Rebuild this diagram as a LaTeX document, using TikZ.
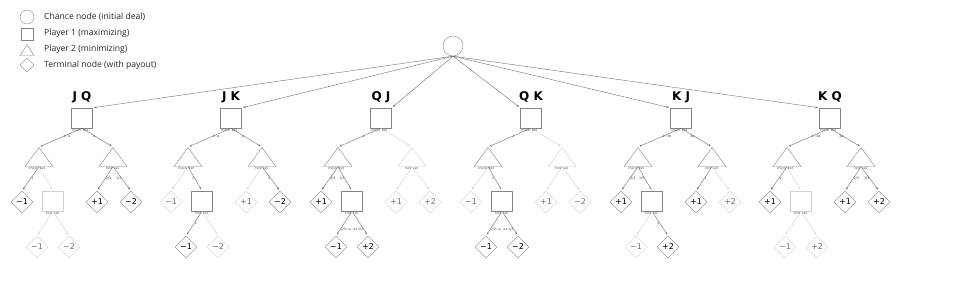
\documentclass[tikz,border=0pt]{standalone}
\usepackage{fontspec}
\setmainfont{DejaVu Sans}
\newfontfamily\legendfont{Open Sans}
\usetikzlibrary{arrows.meta, shapes.geometric}
\definecolor{gtline}{HTML}{707070}
\definecolor{gtnode}{HTML}{858585}
\definecolor{gtfade}{HTML}{D0D0D0}
\definecolor{gttext}{HTML}{555555}

\begin{document}
\begin{tikzpicture}[x=1pt, y=-1pt,
  every node/.style={font=\fontsize{8}{9}\selectfont},
  chance/.style={circle, draw=gtnode, minimum size=20pt, inner sep=0pt},
  pl1/.style={rectangle, draw=gtnode, fill=white, minimum width=21pt, minimum height=20pt, inner sep=0pt},
  pl2/.style={isosceles triangle, shape border rotate=90, isosceles triangle stretches, draw=gtnode, fill=white, minimum width=28pt, minimum height=19pt, inner sep=0pt, anchor=apex},
  term/.style={diamond, draw=gtnode, fill=white, minimum size=22pt, inner sep=0pt},
  off/.style={draw=gtfade, text=black!55},
  deal/.style={font=\fontsize{12}{12}\selectfont\bfseries},
  lgtext/.style={anchor=west, inner sep=0pt, font=\legendfont\fontsize{8.6}{10}\selectfont, text=black!85},
  move/.style={draw=gtline, line width=0.4pt, -{Stealth[length=2.5pt, width=2pt]}, shorten >=1.5pt},
  dead/.style={draw=gtfade},
  act/.style={font=\fontsize{3.2}{3.5}\selectfont, text=gttext, inner sep=0.6pt},
  lact/.style={act, pos=0, anchor=north east},
  ract/.style={act, pos=0, anchor=north west},
  lp/.style={act, text=black!80, pos=.5, anchor=west},
  rp/.style={act, text=black!80, pos=.5, anchor=east},
]
\useasboundingbox (0,0) rectangle (960,287);

% legend
\node[chance, minimum size=14pt] (lgc) at (27,17) {};
\node[pl1, minimum width=12pt, minimum height=12pt] (lgp) at (27,34) {};
\node[pl2, minimum width=14pt, minimum height=11pt] (lgo) at (27,44) {};
\node[term, minimum size=14pt] (lgt) at (27,65) {};
\node[lgtext] (lgctxt) at (44,17) {Chance node (initial deal)};
\node[lgtext] (lgptxt) at (44,33) {Player 1 (maximizing)};
\node[lgtext] (lgotxt) at (44,49) {Player 2 (minimizing)};
\node[lgtext] (lgttxt) at (44,65) {Terminal node (with payout)};

% chance node
\node[chance] (chance) at (453,46) {};

% J Q
\node[deal] (jqlbl) at (82,97) {J Q};
\node[pl1] (jq) at (82,118) {};
\node[pl2] (jqL) at (39,147) {};
\node[pl2] (jqR) at (113,147) {};
\node[term] (jqA) at (22,202) {−1};
\node[pl1, off] (jqP) at (53,201) {};
\node[term, off] (jqB) at (37,247) {−1};
\node[term, off] (jqC) at (69,247) {−2};
\node[term] (jqD) at (97,202) {+1};
\node[term] (jqE) at (131,202) {−2};

% J K
\node[deal] (jklbl) at (231,97) {J K};
\node[pl1] (jk) at (231,118) {};
\node[pl2] (jkL) at (188,147) {};
\node[pl2] (jkR) at (262,147) {};
\node[term, off] (jkA) at (171,202) {−1};
\node[pl1] (jkP) at (202,201) {};
\node[term] (jkB) at (186,247) {−1};
\node[term, off] (jkC) at (218,247) {−2};
\node[term, off] (jkD) at (246,202) {+1};
\node[term] (jkE) at (280,202) {−2};

% Q J
\node[deal] (qjlbl) at (381,97) {Q J};
\node[pl1] (qj) at (381,118) {};
\node[pl2] (qjL) at (338,147) {};
\node[pl2, off] (qjR) at (412,147) {};
\node[term] (qjA) at (321,202) {+1};
\node[pl1] (qjP) at (352,201) {};
\node[term] (qjB) at (336,247) {−1};
\node[term] (qjC) at (368,247) {+2};
\node[term, off] (qjD) at (396,202) {+1};
\node[term, off] (qjE) at (430,202) {+2};

% Q K
\node[deal] (qklbl) at (531,97) {Q K};
\node[pl1] (qk) at (531,118) {};
\node[pl2] (qkL) at (488,147) {};
\node[pl2, off] (qkR) at (562,147) {};
\node[term, off] (qkA) at (471,202) {−1};
\node[pl1] (qkP) at (502,201) {};
\node[term] (qkB) at (486,247) {−1};
\node[term] (qkC) at (518,247) {−2};
\node[term, off] (qkD) at (546,202) {+1};
\node[term, off] (qkE) at (580,202) {−2};

% K J
\node[deal] (kjlbl) at (681,97) {K J};
\node[pl1] (kj) at (681,118) {};
\node[pl2] (kjL) at (638,147) {};
\node[pl2] (kjR) at (712,147) {};
\node[term] (kjA) at (621,202) {+1};
\node[pl1] (kjP) at (652,201) {};
\node[term, off] (kjB) at (636,247) {−1};
\node[term] (kjC) at (668,247) {+2};
\node[term] (kjD) at (696,202) {+1};
\node[term, off] (kjE) at (730,202) {+2};

% K Q
\node[deal] (kqlbl) at (830,97) {K Q};
\node[pl1] (kq) at (830,118) {};
\node[pl2] (kqL) at (787,147) {};
\node[pl2] (kqR) at (861,147) {};
\node[term] (kqA) at (770,202) {+1};
\node[pl1, off] (kqP) at (801,201) {};
\node[term, off] (kqB) at (785,247) {−1};
\node[term, off] (kqC) at (817,247) {+2};
\node[term] (kqD) at (845,202) {+1};
\node[term] (kqE) at (879,202) {+2};

% deals
\draw[move] (chance.south) -- (jq.north east);
\draw[move] (chance.south) -- (jk.north east);
\draw[move] (chance.south) -- (qj.north east);
\draw[move] (chance.south) -- (qk.north west);
\draw[move] (chance.south) -- (kj.north west);
\draw[move] (chance.south) -- (kq.north west);

% J Q moves
\draw[move] (jq.south) -- node[lact]{check} node[lp, pos=.45]{1−α} (jqL.apex);
\draw[move] (jq.south) -- node[ract]{bet} node[rp, pos=.45]{α} (jqR.apex);
\draw[move] (jqL.south) -- node[lact]{check} node[lp]{1} (jqA.north);
\draw[move, dead] (jqL.south) -- node[ract]{bet} (jqP.north);
\draw[move, dead] (jqP.south) -- node[lact]{fold} (jqB.north);
\draw[move, dead] (jqP.south) -- node[ract]{call} (jqC.north);
\draw[move] (jqR.south) -- node[lact]{fold} node[lp]{2/3} (jqD.north);
\draw[move] (jqR.south) -- node[ract]{call} node[rp]{1/3} (jqE.north);

% J K moves
\draw[move] (jk.south) -- node[lact]{check} node[lp, pos=.45]{1−α} (jkL.apex);
\draw[move] (jk.south) -- node[ract]{bet} node[rp, pos=.45]{α} (jkR.apex);
\draw[move, dead] (jkL.south) -- node[lact]{check} (jkA.north);
\draw[move] (jkL.south) -- node[ract]{bet} node[rp]{1} (jkP.north);
\draw[move] (jkP.south) -- node[lact]{fold} node[lp]{1} (jkB.north);
\draw[move, dead] (jkP.south) -- node[ract]{call} (jkC.north);
\draw[move, dead] (jkR.south) -- node[lact]{fold} (jkD.north);
\draw[move] (jkR.south) -- node[ract]{call} node[rp]{1} (jkE.north);

% Q J moves
\draw[move] (qj.south) -- node[lact]{check} node[lp, pos=.45]{1} (qjL.apex);
\draw[move, dead] (qj.south) -- node[ract]{bet} (qjR.apex);
\draw[move] (qjL.south) -- node[lact]{check} node[lp]{2/3} (qjA.north);
\draw[move] (qjL.south) -- node[ract]{bet} node[rp]{1/3} (qjP.north);
\draw[move] (qjP.south) -- node[lact]{fold} node[lp, pos=.75]{2/3−α} (qjB.north);
\draw[move] (qjP.south) -- node[ract]{call} node[rp, pos=.75]{α+1/3} (qjC.north);
\draw[move, dead] (qjR.south) -- node[lact]{fold} (qjD.north);
\draw[move, dead] (qjR.south) -- node[ract]{call} (qjE.north);

% Q K moves
\draw[move] (qk.south) -- node[lact]{check} node[lp, pos=.45]{1} (qkL.apex);
\draw[move, dead] (qk.south) -- node[ract]{bet} (qkR.apex);
\draw[move, dead] (qkL.south) -- node[lact]{check} (qkA.north);
\draw[move] (qkL.south) -- node[ract]{bet} node[rp]{1} (qkP.north);
\draw[move] (qkP.south) -- node[lact]{fold} node[lp, pos=.75]{2/3−α} (qkB.north);
\draw[move] (qkP.south) -- node[ract]{call} node[rp, pos=.75]{α+1/3} (qkC.north);
\draw[move, dead] (qkR.south) -- node[lact]{fold} (qkD.north);
\draw[move, dead] (qkR.south) -- node[ract]{call} (qkE.north);

% K J moves
\draw[move] (kj.south) -- node[lact]{check} node[lp, pos=.45]{1−3α} (kjL.apex);
\draw[move] (kj.south) -- node[ract]{bet} node[rp, pos=.45]{3α} (kjR.apex);
\draw[move] (kjL.south) -- node[lact]{check} node[lp]{2/3} (kjA.north);
\draw[move] (kjL.south) -- node[ract]{bet} node[rp]{1/3} (kjP.north);
\draw[move, dead] (kjP.south) -- node[lact]{fold} (kjB.north);
\draw[move] (kjP.south) -- node[ract]{call} node[rp]{1} (kjC.north);
\draw[move] (kjR.south) -- node[lact]{fold} node[lp]{1} (kjD.north);
\draw[move, dead] (kjR.south) -- node[ract]{call} (kjE.north);

% K Q moves
\draw[move] (kq.south) -- node[lact]{check} node[lp, pos=.45]{1−3α} (kqL.apex);
\draw[move] (kq.south) -- node[ract]{bet} node[rp, pos=.45]{3α} (kqR.apex);
\draw[move] (kqL.south) -- node[lact]{check} node[lp]{1} (kqA.north);
\draw[move, dead] (kqL.south) -- node[ract]{bet} (kqP.north);
\draw[move, dead] (kqP.south) -- node[lact]{fold} (kqB.north);
\draw[move, dead] (kqP.south) -- node[ract]{call} (kqC.north);
\draw[move] (kqR.south) -- node[lact]{fold} node[lp]{2/3} (kqD.north);
\draw[move] (kqR.south) -- node[ract]{call} node[rp]{1/3} (kqE.north);
\end{tikzpicture}
\end{document}
